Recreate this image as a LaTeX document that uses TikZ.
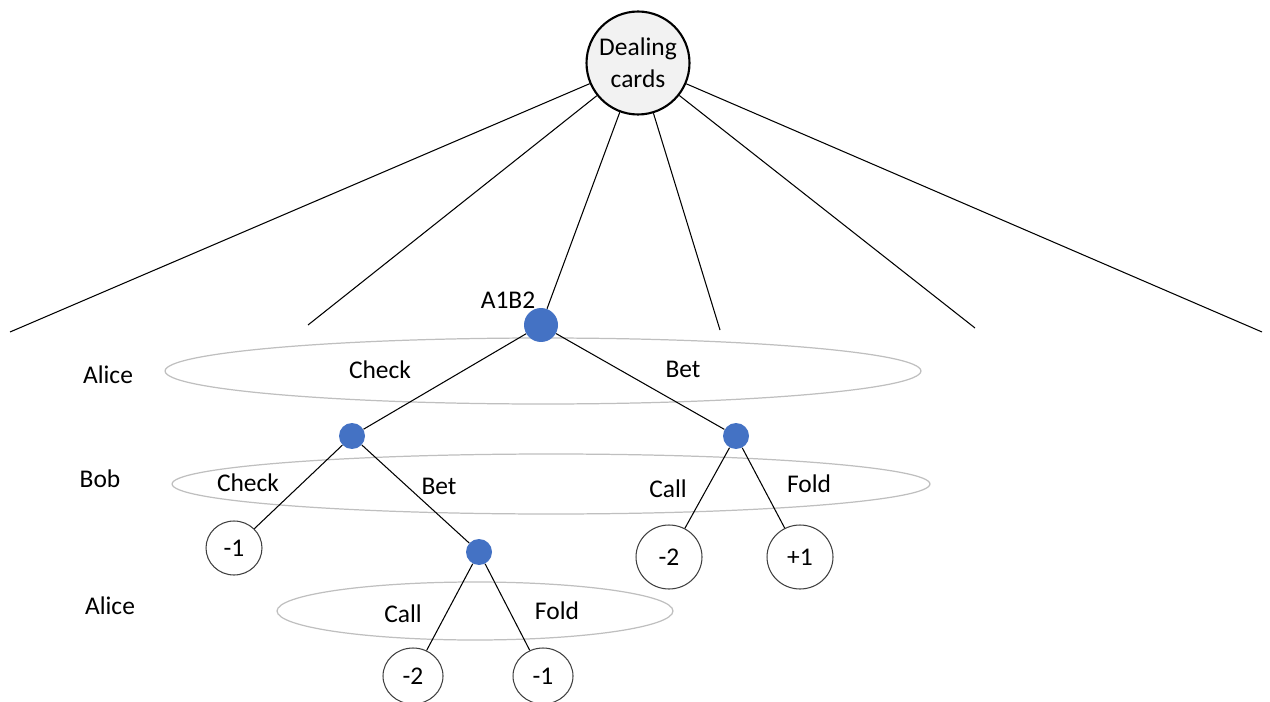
\documentclass[tikz,border=0pt]{standalone}
\usepackage{fontspec}
\setmainfont{Carlito}
\usetikzlibrary{shapes.geometric}

\definecolor{dotblue}{HTML}{4472C4}
\definecolor{ringgray}{HTML}{BFBFBF}
\definecolor{rootfill}{HTML}{F2F2F2}

\tikzset{
  root/.style={circle,draw=black,line width=1.2pt,fill=rootfill,
    minimum size=2.06cm,inner sep=0pt,align=center},
  chance/.style={circle,fill=dotblue,inner sep=0pt,minimum size=0.52cm},
  leaf/.style={ellipse,draw=black!75,line width=0.6pt,inner sep=0pt,
    minimum width=1.12cm,minimum height=1.08cm},
  ring/.style={ellipse,draw=ringgray,line width=0.7pt,inner sep=0pt},
  edge/.style={draw=black,line width=0.6pt}
}

\begin{document}
\begin{tikzpicture}[x=0.02cm,y=-0.02cm]
  \fontsize{14.5}{16}\selectfont
  \useasboundingbox (0,0) rectangle (1270,702);

  % player rings
  \node[ring,minimum width=15.12cm,minimum height=1.32cm] (ringA) at (543,371) {};
  \node[ring,minimum width=15.16cm,minimum height=1.2cm] (ringB) at (551,484) {};
  \node[ring,minimum width=7.92cm,minimum height=1.16cm] (ringC) at (475,611) {};

  % deal
  \node[root,font=\fontsize{14.5}{18}\selectfont] (deal) at (638,63) {Dealing\\cards};
  \node[chance,minimum size=0.68cm] (a1b2) at (541,325) {};
  \node (a1b2lab) at (508,300) {A1B2};
  \foreach \x/\y/\name in {10/332/d1, 308/325/d2, 720/330/d4, 975/328/d5, 1262/332/d6}{
    \coordinate (\name) at (\x,\y);
    \draw[edge] (deal) -- (\name);
  }
  \draw[edge] (deal) -- (a1b2);

  % tree nodes
  \node[chance] (bobL) at (352,436) {};
  \node[chance] (bobR) at (736,436) {};
  \node[chance] (alice2) at (479,552) {};
  \node[leaf] (leafA) at (234,548) {-1};
  \node[leaf,minimum width=1.32cm,minimum height=1.28cm] (leafB) at (669,557) {-2};
  \node[leaf,minimum width=1.32cm,minimum height=1.28cm] (leafC) at (800,557) {+1};
  \node[leaf,minimum width=1.2cm,minimum height=1.12cm] (leafD) at (413,676) {-2};
  \node[leaf,minimum width=1.2cm,minimum height=1.12cm] (leafE) at (543,676) {-1};

  \draw[edge] (a1b2) -- (bobL);
  \draw[edge] (a1b2) -- (bobR);
  \draw[edge] (bobL) -- (leafA);
  \draw[edge] (bobL) -- (alice2);
  \draw[edge] (bobR) -- (leafB);
  \draw[edge] (bobR) -- (leafC);
  \draw[edge] (alice2) -- (leafD);
  \draw[edge] (alice2) -- (leafE);

  % labels
  \node (pA1) at (108,375) {Alice};
  \node (pB) at (100,479) {Bob};
  \node (pA2) at (110,606) {Alice};
  \node (chk1) at (380,370) {Check};
  \node (bet1) at (683,369) {Bet};
  \node (chk2) at (248,483) {Check};
  \node (bet2) at (439,486) {Bet};
  \node (call1) at (668,489) {Call};
  \node (fold1) at (809,484) {Fold};
  \node (call2) at (403,614) {Call};
  \node (fold2) at (557,611) {Fold};
\end{tikzpicture}
\end{document}
